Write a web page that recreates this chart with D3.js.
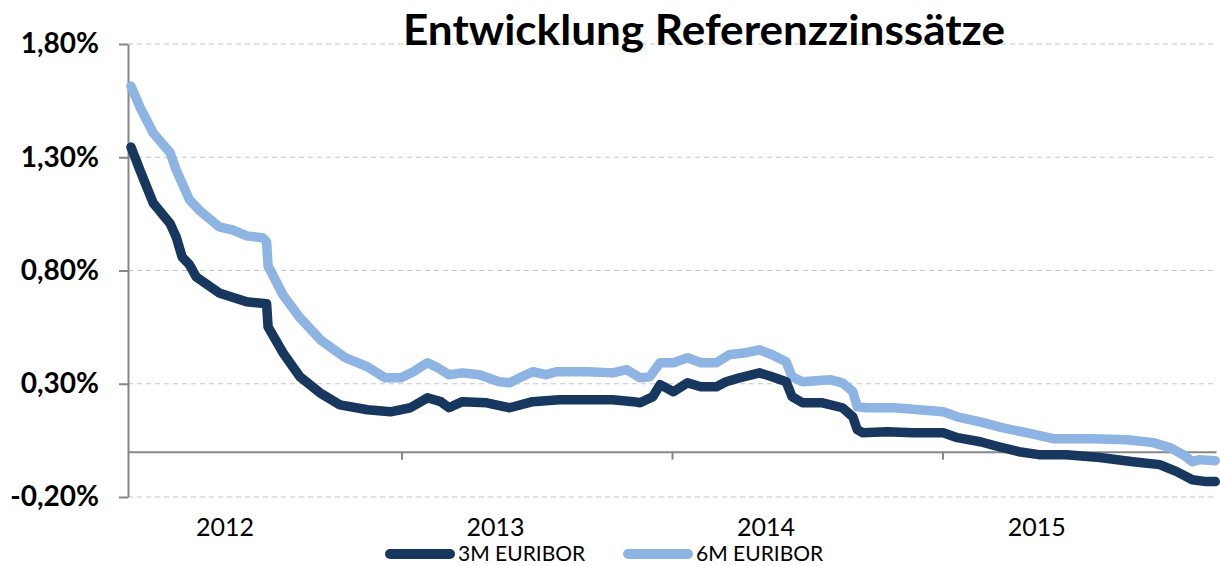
<!DOCTYPE html>
<html>
<head>
<meta charset="utf-8">
<script src="https://cdn.jsdelivr.net/npm/d3@7"></script>
<style>
  html, body { margin: 0; padding: 0; background: #fff; }
  svg { display: block; font-family: Lato, "Open Sans", sans-serif; }
</style>
</head>
<body>
<svg id="chart" width="1220" height="566"></svg>
<script>
const title = "Entwicklung Referenzzinssätze";
const seriesNames = ["3M EURIBOR", "6M EURIBOR"];
const yTicks = [-0.2, 0.3, 0.8, 1.3, 1.8];
const yearLabels = [2012, 2013, 2014, 2015];

// 3M EURIBOR (in %)
const dates3m = [
  "2012-01-02", "2012-01-14", "2012-02-01", "2012-02-24", "2012-03-03", "2012-03-11",
  "2012-03-21", "2012-03-30", "2012-04-30", "2012-06-06", "2012-07-03", "2012-07-05",
  "2012-07-25", "2012-08-17", "2012-09-13", "2012-10-10", "2012-11-16", "2012-12-17",
  "2013-01-13", "2013-02-05", "2013-02-23", "2013-03-06", "2013-03-24", "2013-04-26",
  "2013-05-27", "2013-06-27", "2013-08-02", "2013-09-09", "2013-10-13", "2013-11-10",
  "2013-11-19", "2013-12-06", "2013-12-16", "2014-01-03", "2014-01-22", "2014-02-09",
  "2014-03-02", "2014-03-15", "2014-04-02", "2014-04-29", "2014-05-16", "2014-06-04",
  "2014-06-12", "2014-06-26", "2014-07-23", "2014-08-19", "2014-09-02", "2014-09-08",
  "2014-09-15", "2014-10-18", "2014-11-22", "2015-01-02", "2015-01-21", "2015-02-21",
  "2015-03-18", "2015-04-14", "2015-05-11", "2015-06-17", "2015-08-01", "2015-09-15",
  "2015-10-21", "2015-11-13", "2015-12-04", "2015-12-23", "2016-01-04"
];
const values3m = [
  1.345, 1.244, 1.098, 1.006, 0.948, 0.860,
  0.825, 0.772, 0.701, 0.662, 0.653, 0.551,
  0.437, 0.331, 0.260, 0.207, 0.185, 0.176,
  0.194, 0.238, 0.221, 0.194, 0.221, 0.216,
  0.194, 0.221, 0.229, 0.229, 0.229, 0.221,
  0.216, 0.243, 0.296, 0.265, 0.304, 0.287,
  0.287, 0.309, 0.326, 0.348, 0.331, 0.309,
  0.243, 0.216, 0.216, 0.194, 0.154, 0.097,
  0.084, 0.088, 0.084, 0.084, 0.062, 0.044,
  0.022, 0.000, -0.013, -0.013, -0.026, -0.044,
  -0.057, -0.088, -0.124, -0.132, -0.132
];

// 6M EURIBOR (in %)
const dates6m = [
  "2012-01-02", "2012-01-14", "2012-02-01", "2012-02-24", "2012-03-03", "2012-03-21",
  "2012-04-03", "2012-04-30", "2012-05-18", "2012-06-06", "2012-06-28", "2012-07-03",
  "2012-07-05", "2012-07-25", "2012-08-17", "2012-09-15", "2012-10-17", "2012-11-16",
  "2012-12-10", "2012-12-31", "2013-01-17", "2013-02-05", "2013-02-19", "2013-03-06",
  "2013-03-24", "2013-04-16", "2013-05-13", "2013-05-27", "2013-06-09", "2013-06-27",
  "2013-07-15", "2013-07-29", "2013-09-09", "2013-10-13", "2013-11-01", "2013-11-19",
  "2013-12-02", "2013-12-16", "2014-01-03", "2014-01-22", "2014-02-09", "2014-03-02",
  "2014-03-19", "2014-04-11", "2014-04-29", "2014-05-16", "2014-06-04", "2014-06-12",
  "2014-06-26", "2014-08-02", "2014-08-19", "2014-09-02", "2014-09-08", "2014-09-21",
  "2014-10-28", "2015-01-02", "2015-01-21", "2015-02-25", "2015-03-22", "2015-04-24",
  "2015-06-01", "2015-07-22", "2015-09-07", "2015-10-12", "2015-11-04", "2015-11-24",
  "2015-12-04", "2015-12-14", "2016-01-04"
];
const values6m = [
  1.614, 1.522, 1.407, 1.319, 1.244, 1.112,
  1.067, 0.993, 0.979, 0.953, 0.944, 0.926,
  0.820, 0.693, 0.591, 0.490, 0.415, 0.375,
  0.326, 0.326, 0.353, 0.393, 0.371, 0.340,
  0.348, 0.340, 0.309, 0.304, 0.326, 0.353,
  0.340, 0.353, 0.353, 0.348, 0.362, 0.326,
  0.331, 0.393, 0.393, 0.415, 0.393, 0.393,
  0.428, 0.437, 0.450, 0.428, 0.397, 0.331,
  0.309, 0.318, 0.304, 0.265, 0.198, 0.194,
  0.194, 0.176, 0.154, 0.128, 0.106, 0.084,
  0.057, 0.057, 0.053, 0.040, 0.018, -0.018,
  -0.044, -0.035, -0.040
];

const colors = ["#17375e", "#8db4e2"];

const parseDate = d3.timeParse("%Y-%m-%d");
const series = [
  dates3m.map((d, i) => ({ date: parseDate(d), value: values3m[i] })),
  dates6m.map((d, i) => ({ date: parseDate(d), value: values6m[i] }))
];

const de = d3.formatLocale({ decimal: ",", thousands: ".", grouping: [3], currency: ["", " €"], minus: "-" });
const fmtPct = v => de.format(".2f")(v) + "%";

const svg = d3.select("#chart");
const margin = { top: 44, right: 4, bottom: 69, left: 128 };
const width = 1220, height = 566;

const x = d3.scaleTime()
  .domain([new Date(2011, 11, 29), new Date(2016, 0, 5)])
  .range([margin.left, width - margin.right]);
const y = d3.scaleLinear()
  .domain([-0.2, 1.8])
  .range([height - margin.bottom, margin.top]);

// dashed grid
svg.append("g")
  .selectAll("line")
  .data(yTicks)
  .join("line")
    .attr("x1", margin.left)
    .attr("x2", width - margin.right)
    .attr("y1", d => y(d))
    .attr("y2", d => y(d))
    .attr("stroke", "#c6c6c6")
    .attr("stroke-width", 1.2)
    .attr("stroke-dasharray", "5,4");

// y axis
const yAxis = svg.append("g")
  .attr("transform", `translate(${margin.left},0)`)
  .call(d3.axisLeft(y).tickValues(yTicks).tickFormat(fmtPct).tickSizeInner(9).tickSizeOuter(0).tickPadding(20));
yAxis.select(".domain").attr("stroke", "#878787").attr("stroke-width", 2);
yAxis.selectAll(".tick line").attr("stroke", "#878787").attr("stroke-width", 2);
yAxis.selectAll(".tick text")
  .attr("font-family", "Lato, sans-serif")
  .attr("font-size", 28)
  .attr("font-weight", "bold")
  .attr("fill", "#000");

// zero line with year ticks
const yearStarts = yearLabels.slice(1).map(yr => new Date(yr, 0, 1));
const xAxis = svg.append("g")
  .attr("transform", `translate(0,${y(0)})`)
  .call(d3.axisBottom(x).tickValues(yearStarts).tickFormat("").tickSizeInner(8).tickSizeOuter(0));
xAxis.select(".domain").attr("stroke", "#878787").attr("stroke-width", 2);
xAxis.selectAll(".tick line").attr("stroke", "#878787").attr("stroke-width", 2);

// year labels
svg.append("g")
  .selectAll("text")
  .data(yearLabels)
  .join("text")
    .attr("x", yr => x(new Date(yr, 4, 8)))
    .attr("y", 536)
    .attr("text-anchor", "middle")
    .attr("font-size", 25)
    .attr("fill", "#000")
    .text(yr => yr);

// lines
const line = d3.line()
  .x(d => x(d.date))
  .y(d => y(d.value));

svg.append("g")
  .attr("fill", "none")
  .attr("stroke-width", 9.5)
  .attr("stroke-linejoin", "round")
  .attr("stroke-linecap", "round")
  .selectAll("path")
  .data(series.map((s, i) => ({ s, i })).reverse())
  .join("path")
    .attr("stroke", d => colors[d.i])
    .attr("d", d => line(d.s));

// title
svg.append("text")
  .attr("x", 704)
  .attr("y", 45)
  .attr("text-anchor", "middle")
  .attr("font-size", 42)
  .attr("font-weight", "bold")
  .attr("fill", "#000")
  .attr("textLength", 602)
  .attr("lengthAdjust", "spacingAndGlyphs")
  .text(title);

// legend
const legendX = [390, 628];
const legend = svg.append("g")
  .selectAll("g")
  .data(seriesNames)
  .join("g")
    .attr("transform", (d, i) => `translate(${legendX[i]},554)`);
legend.append("line")
  .attr("x1", 0).attr("x2", 60)
  .attr("stroke", (d, i) => colors[i])
  .attr("stroke-width", 10)
  .attr("stroke-linecap", "round");
legend.append("text")
  .attr("x", 68)
  .attr("y", 7)
  .attr("font-size", 21)
  .attr("fill", "#000")
  .text(d => d);
</script>
</body>
</html>
